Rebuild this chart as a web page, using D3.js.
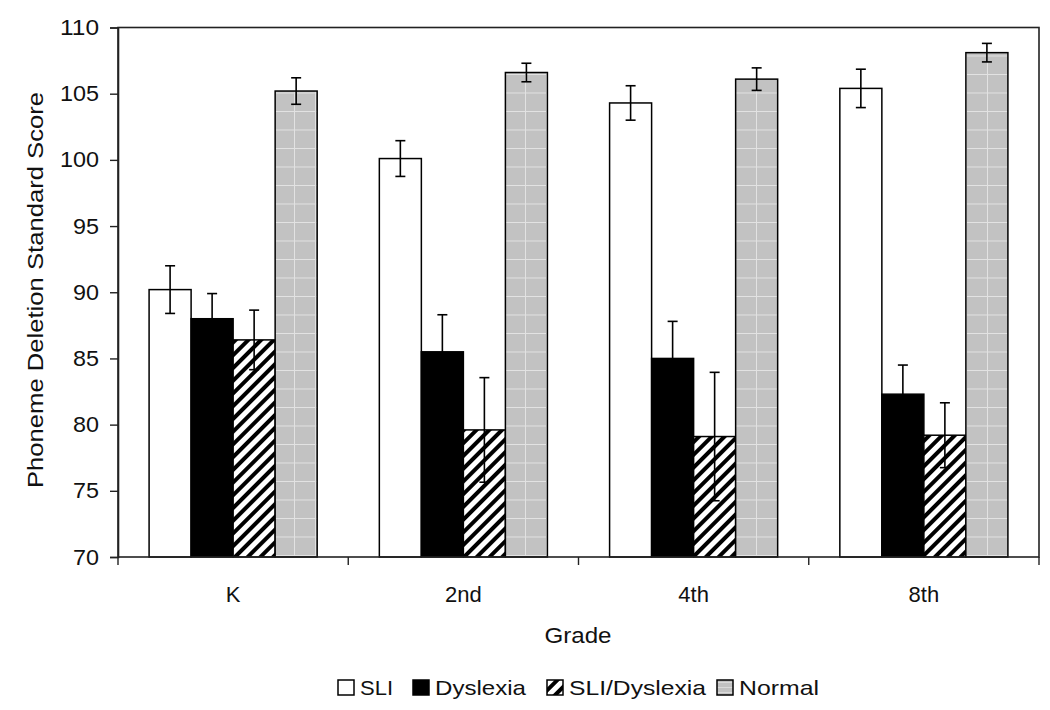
<!DOCTYPE html>
<html><head><meta charset="utf-8">
<script src="https://cdn.jsdelivr.net/npm/d3@7"></script>
<style>body{margin:0;background:#fff}svg{display:block}text{font-family:"Liberation Sans",Arial,sans-serif;fill:#111}</style>
</head><body><svg id="c" width="1050" height="710"></svg>
<script>
const grades = ["K", "2nd", "4th", "8th"];
const seriesNames = ["SLI", "Dyslexia", "SLI/Dyslexia", "Normal"];
const sliValues = [90.2, 100.1, 104.3, 105.4];
const dyslexiaValues = [88.0, 85.5, 85.0, 82.3];
const comboValues = [86.4, 79.6, 79.1, 79.2];
const normalValues = [105.2, 106.6, 106.1, 108.1];
const sliErr = [1.8, 1.35, 1.3, 1.45];
const dyslexiaErr = [1.9, 2.8, 2.8, 2.2];
const comboErr = [2.25, 3.95, 4.85, 2.45];
const normalErr = [1.0, 0.7, 0.85, 0.7];
const yTicks = [70, 75, 80, 85, 90, 95, 100, 105, 110];

const values = [sliValues, dyslexiaValues, comboValues, normalValues];
const errs = [sliErr, dyslexiaErr, comboErr, normalErr];
const fills = ["#fff", "#000", "url(#hatch)", "url(#grid)"];

const svg = d3.select("#c");
const L = 118, R = 1039, T = 27.5, B = 557;
const FONT = "Liberation Sans, Arial, sans-serif";
const defs = svg.append("defs");
const hp = defs.append("pattern").attr("id","hatch").attr("patternUnits","userSpaceOnUse")
  .attr("width",9).attr("height",9).attr("patternTransform","rotate(45)");
hp.append("rect").attr("width",9).attr("height",9).attr("fill","#fff");
hp.append("rect").attr("x",0).attr("width",4).attr("height",9).attr("fill","#000");
const gp = defs.append("pattern").attr("id","grid").attr("patternUnits","userSpaceOnUse")
  .attr("width",21).attr("height",18.5);
gp.append("rect").attr("width",21).attr("height",18.5).attr("fill","#c2c2c2");
gp.append("line").attr("x1",0).attr("x2",21).attr("y1",0.5).attr("y2",0.5).attr("stroke","#e2e2e2").attr("stroke-width",1);
gp.append("line").attr("x1",0.5).attr("x2",0.5).attr("y1",0).attr("y2",18.5).attr("stroke","#e2e2e2").attr("stroke-width",1);
const gp2 = defs.append("pattern").attr("id","gridL").attr("patternUnits","userSpaceOnUse")
  .attr("width",5).attr("height",5);
gp2.append("rect").attr("width",5).attr("height",5).attr("fill","#c2c2c2");
gp2.append("line").attr("x1",0).attr("x2",5).attr("y1",2.5).attr("y2",2.5).attr("stroke","#dadada");

const x0 = d3.scaleBand().domain(grades).range([L, R]).paddingInner(0).paddingOuter(0);
const x1 = d3.scaleBand().domain(seriesNames).range([0, x0.bandwidth()]).paddingInner(0).paddingOuter(0.74);
const y = d3.scaleLinear().domain([70, 110]).range([B, T]);

// bars
seriesNames.forEach((s, si) => {
  const g = svg.append("g");
  g.selectAll("rect").data(grades).join("rect")
    .attr("x", d => x0(d) + x1(s))
    .attr("y", (d, i) => y(values[si][i]))
    .attr("width", x1.bandwidth())
    .attr("height", (d, i) => B - y(values[si][i]))
    .attr("fill", fills[si]).attr("stroke", "#000").attr("stroke-width", 1.5);
});
// error bars
seriesNames.forEach((s, si) => {
  grades.forEach((d, i) => {
    const cx = x0(d) + x1(s) + x1.bandwidth() / 2;
    const v = values[si][i], e = errs[si][i];
    const g = svg.append("g").attr("stroke", "#000").attr("stroke-width", 1.6);
    g.append("line").attr("x1", cx).attr("x2", cx).attr("y1", y(v + e)).attr("y2", y(v - e));
    g.append("line").attr("x1", cx - 5).attr("x2", cx + 5).attr("y1", y(v + e)).attr("y2", y(v + e));
    g.append("line").attr("x1", cx - 5).attr("x2", cx + 5).attr("y1", y(v - e)).attr("y2", y(v - e));
  });
});

// frame
svg.append("rect").attr("x", L).attr("y", T).attr("width", R - L).attr("height", B - T)
  .attr("fill", "none").attr("stroke", "#222").attr("stroke-width", 1.6);

// y axis
const ya = svg.append("g").attr("transform", `translate(${L},0)`)
  .call(d3.axisLeft(y).tickValues(yTicks).tickSize(8).tickPadding(11).tickFormat(d3.format("d")));
ya.select(".domain").attr("stroke", "#222").attr("stroke-width", 1.6);
ya.selectAll(".tick line").attr("stroke", "#222").attr("stroke-width", 1.4);
ya.selectAll("text").attr("font-size", 22).attr("fill", "#111").attr("font-family", FONT)
  .attr("textLength", d => String(d).length * 13).attr("lengthAdjust", "spacingAndGlyphs");

// x axis
const xa = svg.append("g").attr("transform", `translate(0,${B})`)
  .call(d3.axisBottom(x0).tickSize(0).tickPadding(45));
xa.select(".domain").remove();
xa.selectAll("text").attr("font-size", 22).attr("fill", "#111").attr("font-family", FONT)
  .attr("dy", "0");
const bounds = grades.map(g => x0(g)).concat([R]);
svg.append("g").selectAll("line").data(bounds).join("line")
  .attr("x1", d => d).attr("x2", d => d).attr("y1", B).attr("y2", B + 8)
  .attr("stroke", "#222").attr("stroke-width", 1.4);

// titles
svg.append("text").attr("x", 578).attr("y", 643).attr("text-anchor", "middle")
  .attr("font-size", 22).attr("textLength", 67).attr("lengthAdjust", "spacingAndGlyphs").text("Grade");
svg.append("text").attr("transform", `translate(43,290) rotate(-90)`)
  .attr("text-anchor", "middle").attr("font-size", 22)
  .attr("textLength", 396).attr("lengthAdjust", "spacingAndGlyphs").text("Phoneme Deletion Standard Score");

// legend
const legX = [338, 413, 547, 717];
const legLen = [33, 91, 137, 80];
const leg = svg.append("g");
seriesNames.forEach((s, i) => {
  leg.append("rect").attr("x", legX[i]).attr("y", 680).attr("width", 16).attr("height", 15)
    .attr("fill", i === 3 ? "url(#gridL)" : fills[i]).attr("stroke", "#000").attr("stroke-width", 1.5);
  leg.append("text").attr("x", legX[i] + 22).attr("y", 695).attr("font-size", 21)
    .attr("textLength", legLen[i]).attr("lengthAdjust", "spacingAndGlyphs").text(s);
});
</script></body></html>
